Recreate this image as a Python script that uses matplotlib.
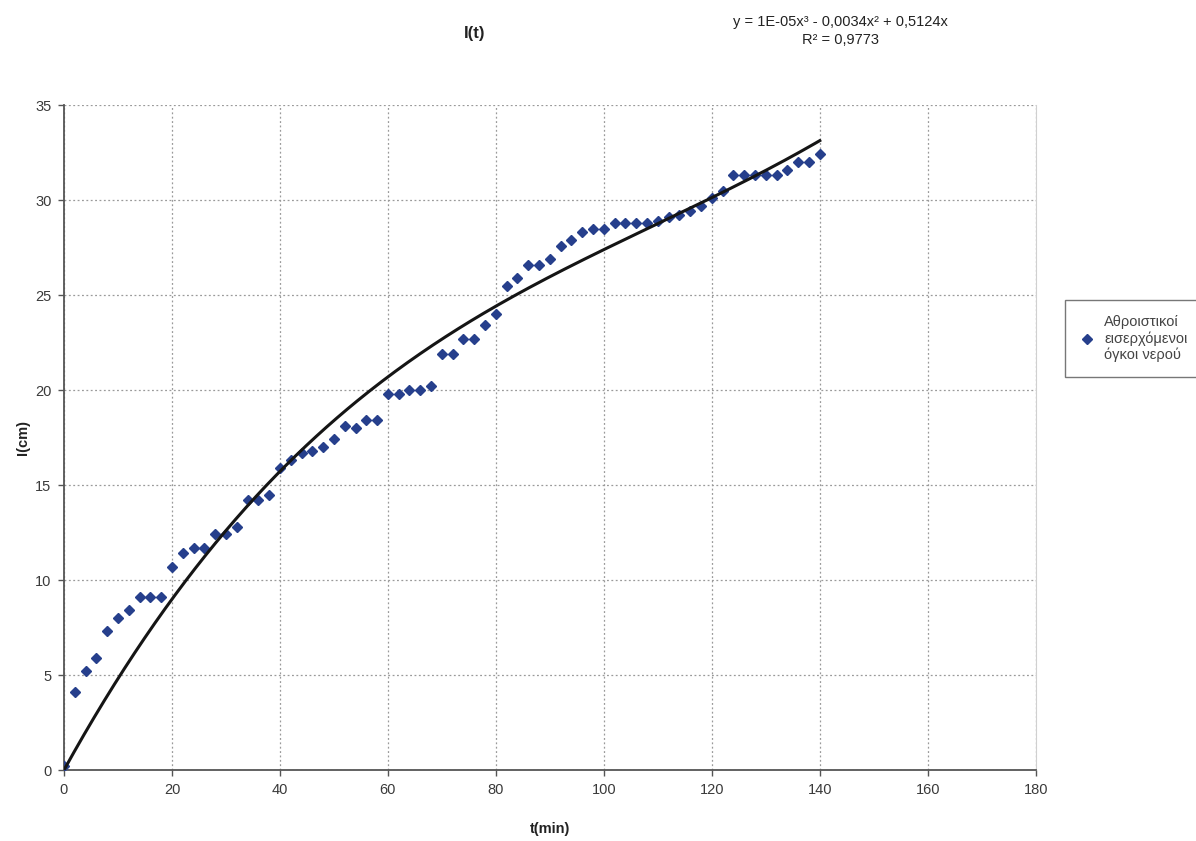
import numpy as np
import matplotlib.pyplot as plt

plt.rcParams['font.family'] = ['Liberation Sans', 'DejaVu Sans']

# cumulative inflow readings, one every 2 minutes
t_min = np.arange(0, 142, 2)
level_cm = [
    0.2, 4.1, 5.2, 5.9, 7.3, 8.0, 8.4, 9.1, 9.1, 9.1,
    10.7, 11.4, 11.7, 11.7, 12.4, 12.4, 12.8, 14.2, 14.2, 14.5,
    15.9, 16.3, 16.7, 16.8, 17.0, 17.4, 18.1, 18.0, 18.4, 18.4,
    19.8, 19.8, 20.0, 20.0, 20.2, 21.9, 21.9, 22.7, 22.7, 23.4,
    24.0, 25.5, 25.9, 26.6, 26.6, 26.9, 27.6, 27.9, 28.3, 28.5,
    28.5, 28.8, 28.8, 28.8, 28.8, 28.9, 29.1, 29.2, 29.4, 29.7,
    30.1, 30.5, 31.3, 31.3, 31.3, 31.3, 31.3, 31.6, 32.0, 32.0,
    32.4,
]
legend_label = "Αθροιστικοί\nεισερχόμενοι\nόγκοι νερού"
eq_text = "y = 1E-05x³ - 0,0034x² + 0,5124x\nR² = 0,9773"

# cubic trendline forced through the origin (same as the spreadsheet fit)
t = np.asarray(t_min, dtype=float)
y = np.asarray(level_cm, dtype=float)
A = np.column_stack([t ** 3, t ** 2, t])
coef, *_ = np.linalg.lstsq(A, y, rcond=None)
tt = np.linspace(0, t.max(), 300)
yy = coef[0] * tt ** 3 + coef[1] * tt ** 2 + coef[2] * tt

fig = plt.figure(figsize=(11.96, 8.41), dpi=100)
ax = fig.add_axes([0.0535, 0.0844, 0.8125, 0.7907])

ax.plot(t, y, linestyle='none', marker='D', markersize=5.3,
        color='#263f8c', label=legend_label, zorder=3)
ax.plot(tt, yy, color='#151515', linewidth=2.2, zorder=4)

ax.set_xlim(0, 180)
ax.set_ylim(0, 35)
ax.set_xticks(np.arange(0, 181, 20))
ax.set_yticks(np.arange(0, 36, 5))
ax.grid(True, color='#9a9a9a', linestyle=(0, (1.5, 2)), linewidth=0.9)
ax.set_axisbelow(True)

for side in ('left', 'bottom'):
    ax.spines[side].set_color('#555555')
    ax.spines[side].set_linewidth(1.3)
ax.spines['top'].set_visible(False)
ax.spines['right'].set_color('#d0d0d0')
ax.tick_params(axis='both', direction='out', length=4, width=1,
               color='#555555', labelsize=10.5, labelcolor='#3a3a3a', pad=5)

ax.set_xlabel('t(min)', fontsize=10.5, fontweight='bold', color='#222222', labelpad=18)
ax.set_ylabel('I(cm)', fontsize=10.5, fontweight='bold', color='#222222', labelpad=4)

fig.text(0.397, 0.960, 'I(t)', fontsize=12, fontweight='bold',
         color='#222222', ha='center', va='center')
fig.text(0.703, 0.963, eq_text, fontsize=10.5, color='#222222',
         ha='center', va='center', linespacing=1.3)

leg = ax.legend(loc='upper left', bbox_to_anchor=(0.8905, 0.643),
                bbox_transform=fig.transFigure, borderaxespad=0,
                frameon=True, fancybox=False,
                fontsize=10.5, handlelength=1.0, handletextpad=0.7,
                borderpad=1.0, labelspacing=0.3)
leg.get_frame().set_edgecolor('#555555')
leg.get_frame().set_linewidth(1.0)
for txt in leg.get_texts():
    txt.set_color('#444444')
    txt.set_linespacing(1.2)

fig.savefig('out.png', dpi=100)
